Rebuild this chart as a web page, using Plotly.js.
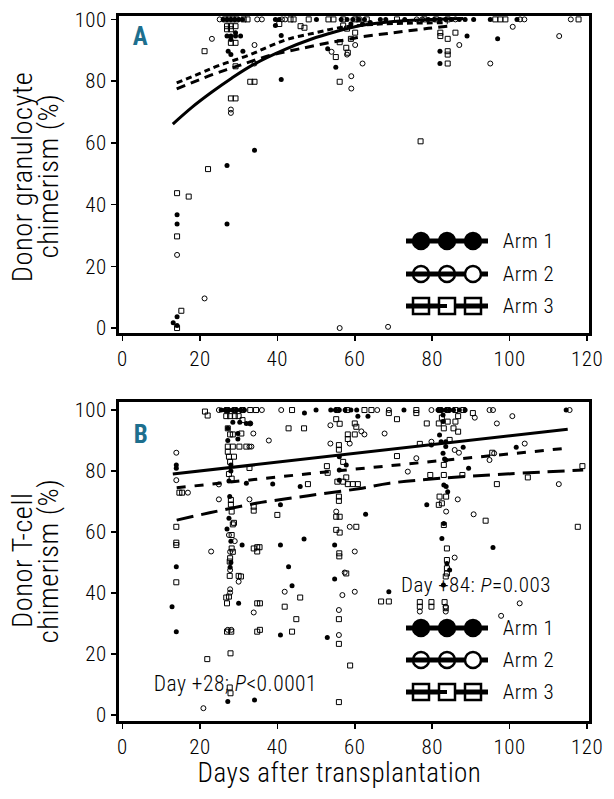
<!DOCTYPE html>
<html><head><meta charset="utf-8">
<script src="https://cdn.plot.ly/plotly-3.0.1.min.js"></script>
<style>
html,body{margin:0;padding:0;background:#fff;}
#chart{width:614px;height:799px;}
#chart svg text{letter-spacing:0.5px;font-stretch:condensed;}
</style>
</head><body><div id="chart"></div>
<script>
// ---------- Panel A: donor granulocyte chimerism (day, %) ----------
const panelA_arm1 = [[26,100],[27,100],[28,100],[29,100],[30,100],[31,100],[39.5,100],[40.5,100],[50.1,100],[56.5,100],[58,100],[59.5,100],[61,100],[62.5,100],[66.6,100],[68,100],[72.9,100],[79,100],[80.5,100],[82,100],[83.5,100],[85,100],[87,100],[88.5,100],[90.7,100],[95,100],[101.9,100],[39.5,98],[27,94.6],[28,94.6],[29.2,94.6],[30.5,94.6],[28,93.5],[29.2,95.7],[27.3,89.7],[28,88.6],[31.1,89.7],[41,94.8],[41,80.5],[34.1,57.6],[27,52.7],[14.1,36.7],[14.1,33.7],[27,33.7],[14.1,3.7],[13.1,1.7],[14.1,0.8],[53,90.5],[55.1,84.5],[82,89.7],[82,85.7],[89,94.6],[96.9,93.7],[59,98.5],[62,98.5],[64,99]];
const panelA_arm2 = [[25.1,100],[34.8,100],[36,100],[41.2,100],[42,100],[76,100],[77.4,100],[86,100],[102.7,100],[103.8,100],[115.8,100],[23.1,93.7],[34.1,91.7],[34.1,85.7],[28,70.8],[28,69.7],[54,89.5],[58,88.6],[60.1,91.7],[59.1,81.6],[59.1,77.6],[62,85.7],[87,91.7],[95,85.7],[100.8,97.6],[112.8,94.6],[14.1,23.7],[21.2,9.6],[56.1,0],[68.6,0.4]];
const panelA_arm3 = [[26.5,100],[27.5,100],[28.5,100],[29.5,100],[31.3,100],[32.3,100],[43.4,100],[44.2,100],[48.1,100],[53.2,100],[54.5,100],[57,100],[60.1,100],[61,100],[63.1,100],[70.9,100],[78,100],[81,100],[84,100],[96.3,100],[97.6,100],[98.9,100],[117.8,100],[27,97.8],[28,97.8],[29.2,97.8],[27,96.8],[28,96.8],[28,92.4],[29.2,92.4],[46,97.8],[47,97.3],[40.5,98.5],[21.2,89.7],[29.2,84.8],[33,79.8],[34.1,79.8],[28,74.4],[29.2,74.4],[22.1,51.5],[14.1,43.7],[17.1,42.6],[14.1,29.7],[15.2,5.6],[14.1,0],[77,60.5],[56.1,92.6],[57.8,90.8],[58.2,89.2],[59,93.7],[60.1,95.7],[55.1,87.8],[56.1,79.8],[82.1,95.7],[82.1,94.6],[84,93.7],[86,95.7],[84,89.7],[84,88.6],[84,85.7],[58,97],[57,98]];
const fitA_arm1 = [[13,66.1],[18,71.6],[23,76.4],[28,80.8],[34,85.5],[42,90.3],[48.5,93.5],[55,96],[61.5,98],[70,99.3],[80,100],[88,100.3]];
const fitA_arm2 = [[14,79.4],[20,82.5],[25,85.1],[33,88.6],[38,91.3],[43,93.7],[50,95.7],[56,97.3],[65,98.4],[75,98.8],[84,98.9]];
const fitA_arm3 = [[14,77.5],[23,82],[30,85],[38,88.3],[47,90.8],[54,92.6],[59,93.7],[61,94.2],[70,95.7],[79,97.1],[84,97.8]];

// ---------- Panel B: donor T-cell chimerism (day, %) ----------
const panelB_arm1 = [[25.5,100],[26.5,100],[27.5,100],[28.5,100],[29.5,100],[30.5,100],[31.5,100],[50,100],[53.8,100],[55,100],[56,100],[57.5,100],[59,100],[60.5,100],[72.7,100],[81.5,100],[82.5,100],[83.5,100],[84.5,100],[85.5,100],[87,100],[88.5,100],[114.6,100],[47,99],[60.8,98],[63.4,98],[82.8,98.4],[28.5,96],[30.3,96],[32,95.6],[33,95.6],[82.8,96.2],[27.2,94],[29.8,92.3],[27.2,90],[29.8,90.5],[81.9,91.8],[82.3,89.6],[83.5,89.6],[83.5,88],[79.8,88.5],[88,87.8],[101.7,87.8],[82.8,85.8],[56,84.7],[83.2,83.9],[83.5,83.6],[28,82],[57.8,82],[13.9,82],[13.9,80.9],[89.4,80.9],[28,80],[56,80.3],[56,77],[32,76],[38.8,75.7],[45.9,74.9],[27.5,76.7],[83,75.4],[84,73.2],[83.6,74.9],[27.7,71.6],[40.8,68.9],[78.6,68.9],[62.8,65.8],[27.5,64.5],[83,62.8],[27,61],[28,57],[82.5,57.9],[30.9,55.7],[40.8,55.7],[54.8,55.7],[46.9,57.7],[95.7,54.9],[28,50],[27.8,48.4],[13.9,48.6],[42.9,48.6],[83.8,49.7],[84.5,47.5],[43.8,42.4],[82.9,42.6],[54.8,44.6],[68.8,40.4],[30,36.6],[12.8,35.5],[13.9,27.3],[40.8,26.2],[52.9,25.4],[27.2,4.4],[34.1,4.9]];
const panelB_arm2 = [[24.9,100],[36,100],[41,100],[65.8,100],[68.8,100],[79.8,100],[94.8,100],[95.7,100],[115.5,100],[33,95.6],[100.7,98],[91,97.5],[96.7,95.6],[33.8,92.3],[37.8,90],[67.7,92.3],[53.7,95],[61.7,93],[62.5,92],[32.8,88],[33.3,88],[53.7,89],[58.7,89],[79.8,89.6],[103.9,89],[85.8,86.9],[86.9,86],[96,85.8],[13.9,86],[75.9,84.2],[94.8,83.6],[73.7,79.8],[13.9,77],[24.9,75.6],[16.9,72.9],[112.7,75.7],[24.9,70.7],[32.8,70.7],[86.6,70.7],[55.2,66.7],[83.6,66.7],[90.7,65.8],[58.7,61.7],[27.5,59],[29,57],[22.9,53.6],[60,53.6],[27.8,53.5],[85.8,51.6],[57.4,46.7],[27.8,47.5],[30,43.7],[27.8,41.2],[27.8,40.1],[41.9,40.4],[56.8,39.3],[60,40.4],[33.9,33.6],[55.9,34.4],[83.5,35.5],[83.5,33.9],[76.8,33.9],[102.6,36.6],[97.8,32.5],[55.9,26.2],[27.2,27.9],[28.1,27.9],[20.9,2.2]];
const panelB_arm3 = [[21.3,99.5],[22,98.2],[27,100],[29,100],[31,100],[33,100],[34.5,100],[43.8,100],[55.5,100],[58,100],[62.5,100],[64.3,100],[75.9,100],[82,100],[84,100],[86,100],[88,100],[90.5,99],[26.8,98],[27.8,98],[29,98],[30,98],[31,96.7],[68.8,99],[75.9,99],[70.9,97],[82.5,97.5],[84,96.2],[86,96.2],[86.7,98],[27.2,94],[60,95.6],[78.6,95.6],[81.7,95.6],[83,94],[85.5,94],[42.9,94],[46.9,94],[55.2,97],[56.1,95.5],[60.4,94.5],[60,92],[58.2,92],[58.2,90.5],[86.7,92.9],[27.8,92],[28.5,92],[30.7,92.3],[84.5,90.2],[76.8,88.9],[55.9,88.5],[55.9,87],[27.2,88],[28.5,88],[30.2,88],[32,88],[27.2,86.3],[27.5,84.7],[28.8,84.7],[70.9,84.9],[95.5,86],[27.8,83],[52.8,81.6],[83,82],[57,83],[32.8,81],[118.8,81.6],[53,79.4],[79.5,78.7],[83,78.7],[87.8,78.7],[27.5,79],[28.2,77.5],[57.8,77.9],[55.5,76.5],[57,76.5],[104.7,77.9],[58.2,75.7],[59.5,75.7],[60.8,75.7],[96.7,75.7],[47.9,75.7],[14.7,72.9],[15.4,72.9],[55.9,71.6],[55.9,70.2],[81.9,71.6],[83.6,71.6],[82.5,69.4],[81.7,68.9],[28,70.5],[28,69],[33.9,68.3],[33.9,67],[40,65.6],[28.2,66.7],[55.2,65],[56.1,65],[93.8,63.7],[28.5,62.5],[28.8,63],[83,62.3],[13.9,61.7],[60.4,61.7],[117.6,61.7],[55.2,60.7],[56.1,59.8],[28.2,59],[13.9,56.5],[13.9,55.7],[34.8,55],[35.4,55],[28.2,54.6],[33.9,54.6],[34.8,53.6],[56,53],[56,52],[83.8,54.6],[28.5,53.5],[27.8,51.4],[83.8,50.8],[83.8,48.1],[27.7,50.3],[57.8,46.4],[27.7,45.6],[30,45.6],[30.6,45.4],[83.8,46.4],[83.5,45.4],[13.9,43.5],[45.9,38.5],[26.8,38.5],[27.5,38.8],[76.8,37],[79.8,37],[83.2,37],[66.8,37.2],[68.8,37.2],[27,36.6],[34.8,36.6],[35.5,36.6],[41.9,35.5],[76.8,35.5],[79.8,35.5],[83.5,35],[44.9,31.4],[55.9,31.4],[27,27.3],[28.1,27.3],[34.8,27.3],[43.8,27.3],[35.5,27.9],[55.9,23.3],[27.9,20.2],[21.9,18.3],[58.8,16.2],[27.7,9],[27.9,7.1],[55.9,4.2]];
const fitB_arm1 = [[13,79],[61,85.9],[115,93.7]];
const fitB_arm2 = [[14,74.5],[48,79.1],[115,87.5]];
const fitB_arm3 = [[14,63.9],[22.5,66.3],[34.5,69.4],[48,71.9],[61,74.2],[69,76],[82,77.6],[99,79],[119,80.3]];

const xTicks = [0,20,40,60,80,100,120];
const yTicks = [0,20,40,60,80,100];
const armNames = ['Arm 1','Arm 2','Arm 3'];
const yTitlesA = ['Donor granulocyte','chimerism (%)'];
const yTitlesB = ['Donor T-cell','chimerism (%)'];
const xTitle = 'Days after transplantation';
const noteB84 = 'Day +84: <i>P</i>=0.003';
const noteB28 = 'Day +28; <i>P</i>&lt;0.0001';

// ---------- styling / layout helpers ----------
const FONT = '"Roboto Condensed",Roboto,"DejaVu Sans Condensed",sans-serif';
const W = 350;
const TEAL = '#1d6f8e';
const L = 119, R = 589, T = 16, B = 721;           // plot area in px
const PX = px => (px - L) / (R - L);
const PY = py => (B - py) / (B - T);

const markerStyles = [
  {symbol:'circle', size:5, color:'black'},
  {symbol:'circle-open', size:5, color:'black', line:{width:1, color:'black'}},
  {symbol:'square-open', size:5, color:'black', line:{width:1, color:'black'}}
];
const lineStylesA = [
  {color:'black', width:3, dash:'solid', shape:'spline'},
  {color:'black', width:3, dash:'6px,4px', shape:'spline'},
  {color:'black', width:3, dash:'9px,6px', shape:'spline'}
];
const lineStylesB = [
  {color:'black', width:3, dash:'solid'},
  {color:'black', width:3, dash:'9px,9px'},
  {color:'black', width:3, dash:'17px,8px', shape:'spline'}
];

const traces = [];
function addPoints(pts, i, xa, ya){
  traces.push({type:'scatter', mode:'markers', x:pts.map(p=>p[0]), y:pts.map(p=>p[1]),
    xaxis:xa, yaxis:ya, marker:markerStyles[i], showlegend:false, cliponaxis:false, hoverinfo:'skip'});
}
function addFit(pts, style, xa, ya){
  traces.push({type:'scatter', mode:'lines', x:pts.map(p=>p[0]), y:pts.map(p=>p[1]),
    xaxis:xa, yaxis:ya, line:style, showlegend:false, hoverinfo:'skip'});
}
[panelA_arm1,panelA_arm2,panelA_arm3].forEach((p,i)=>addPoints(p,i,'x','y'));
[panelB_arm1,panelB_arm2,panelB_arm3].forEach((p,i)=>addPoints(p,i,'x2','y2'));
[fitA_arm1,fitA_arm2,fitA_arm3].forEach((p,i)=>addFit(p,lineStylesA[i],'x','y'));
[fitB_arm1,fitB_arm2,fitB_arm3].forEach((p,i)=>addFit(p,lineStylesB[i],'x2','y2'));

// ---------- legend glyphs (shapes) ----------
const shapes = [];
const legCx = [421, 447, 473];
function hline(x0, x1, cy, w){
  shapes.push({type:'line', xref:'paper', yref:'paper', x0:PX(x0), x1:PX(x1), y0:PY(cy), y1:PY(cy),
    line:{color:'black', width:w}, layer:'above'});
}
function glyph(type, cx, cy, fill){
  shapes.push({type:type, xref:'paper', yref:'paper', xsizemode:'pixel', ysizemode:'pixel',
    xanchor:PX(cx), yanchor:PY(cy), x0:-8, x1:8, y0:-8, y1:8,
    fillcolor:fill, line:{color:'black', width:2.5}, layer:'above'});
}
function legendBlock(rows){
  hline(406, 488, rows[0], 5);
  legCx.forEach(cx=>glyph('circle', cx, rows[0], 'black'));
  hline(406, 488, rows[1], 5);
  glyph('circle', legCx[0], rows[1], 'rgba(0,0,0,0)');
  glyph('circle', legCx[1], rows[1], 'rgba(0,0,0,0)');
  glyph('circle', legCx[2], rows[1], 'white');
  hline(406, 488, rows[2], 5);
  glyph('rect', legCx[0], rows[2], 'rgba(0,0,0,0)');
  glyph('rect', legCx[1], rows[2], 'white');
  hline(legCx[1]-8, legCx[1], rows[2], 4);
  glyph('rect', legCx[2], rows[2], 'rgba(0,0,0,0)');
}
const rowsA = [241, 274, 306];
const rowsB = [628, 660, 692];
legendBlock(rowsA);
legendBlock(rowsB);

// ---------- annotations ----------
const ann = [];
function text(t, px, py, size, opts){
  ann.push(Object.assign({text:t, xref:'paper', yref:'paper', x:PX(px), y:PY(py), showarrow:false,
    xanchor:'center', yanchor:'middle', font:{family:FONT, size:size, color:'black', weight:W}}, opts||{}));
}
armNames.forEach((n,i)=>text(n, 502, rowsA[i], 21, {xanchor:'left'}));
armNames.forEach((n,i)=>text(n, 502, rowsB[i], 21, {xanchor:'left'}));
text('A', 140, 36, 25, {font:{family:FONT, size:25, color:TEAL, weight:'bold'}});
text('B', 141, 434, 25, {font:{family:FONT, size:25, color:TEAL, weight:'bold'}});
text(yTitlesA[0], 22, 177, 28.5, {textangle:-90});
text(yTitlesA[1], 48, 176, 28.5, {textangle:-90});
text(yTitlesB[0], 22, 561, 28.5, {textangle:-90});
text(yTitlesB[1], 48, 561, 28.5, {textangle:-90});
text(xTitle, 339, 773, 27);
text(noteB84, 403, 585, 21, {xanchor:'left'});
text(noteB28, 156, 683, 21.5, {xanchor:'left'});

// ---------- axes ----------
const axBase = {showline:true, linewidth:3, linecolor:'black', mirror:true, showgrid:false, zeroline:false,
  ticks:'outside', ticklen:5, tickwidth:1.5, tickcolor:'black',
  tickfont:{family:FONT, size:21, color:'black', weight:W}};
const layout = {
  width:614, height:799, paper_bgcolor:'white', plot_bgcolor:'white',
  margin:{l:L, r:614-R, t:T, b:799-B}, showlegend:false,
  xaxis: Object.assign({}, axBase, {range:[-0.9,120.5], tickvals:xTicks, anchor:'y', domain:[0,1]}),
  yaxis: Object.assign({}, axBase, {range:[-1.6,101.1], tickvals:yTicks, anchor:'x', domain:[PY(333),1]}),
  xaxis2: Object.assign({}, axBase, {range:[-0.9,120.5], tickvals:xTicks, anchor:'y2', domain:[0,1]}),
  yaxis2: Object.assign({}, axBase, {range:[-2,102.8], tickvals:yTicks, anchor:'x2', domain:[0,PY(401.5)]}),
  shapes:shapes, annotations:ann
};
Plotly.newPlot('chart', traces, layout, {staticPlot:true, displayModeBar:false});
</script></body></html>
